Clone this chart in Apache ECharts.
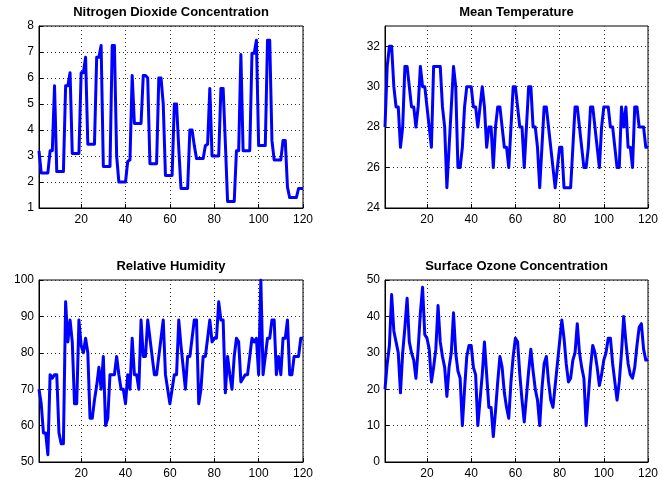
<!DOCTYPE html>
<html>
<head>
<meta charset="utf-8">
<script src="https://cdn.jsdelivr.net/npm/echarts@6/dist/echarts.min.js"></script>
<style>
  html, body { margin: 0; padding: 0; background: #fff; }
  #chart { width: 663px; height: 480px; }
</style>
</head>
<body>
<div id="chart"></div>
<script>
// daily readings, day 1..120
var no2 = [3.2, 2.35, 2.35, 2.35, 2.35, 3.2, 3.2, 5.7, 2.4, 2.4,
  2.4, 2.4, 5.7, 5.7, 6.2, 3.1, 3.1, 3.1, 3.1, 6.2,
  6.2, 6.8, 3.45, 3.45, 3.45, 3.45, 6.8, 6.8, 7.25, 2.6,
  2.6, 2.6, 2.6, 7.25, 7.25, 3.0, 2.0, 2.0, 2.0, 2.0,
  2.8, 2.85, 6.1, 4.25, 4.25, 4.25, 4.25, 6.1, 6.1, 6.0,
  2.7, 2.7, 2.7, 2.7, 6.0, 6.0, 5.0, 2.25, 2.25, 2.25,
  2.25, 5.0, 5.0, 3.3, 1.75, 1.75, 1.75, 1.75, 4.0, 4.0,
  3.4, 2.9, 2.9, 2.9, 2.9, 3.4, 3.45, 5.6, 3.0, 3.0,
  3.0, 3.0, 5.6, 5.6, 3.5, 1.25, 1.25, 1.25, 1.25, 3.2,
  3.2, 6.9, 3.2, 3.2, 3.2, 3.2, 6.95, 6.95, 7.45, 3.4,
  3.4, 3.4, 3.4, 7.45, 7.45, 3.6, 2.85, 2.85, 2.85, 2.85,
  3.6, 3.6, 1.8, 1.4, 1.4, 1.4, 1.4, 1.75, 1.75, 1.75];

var temperature = [28, 31, 32, 32, 30, 29, 29, 27, 28, 31,
  31, 30, 29, 29, 28, 29, 31, 30, 30, 29,
  28, 27, 31, 31, 31, 31, 29, 28, 25, 27,
  29, 31, 30, 26, 26, 27, 29, 30, 30, 30,
  29, 29, 28, 29, 30, 29, 27, 28, 28, 26,
  28, 29, 29, 28, 27, 27, 26, 28, 30, 30,
  29, 28, 28, 26, 28, 30, 30, 28, 28, 27,
  25, 27, 29, 29, 28, 27, 26, 25, 26, 27,
  27, 25, 25, 25, 25, 27, 29, 29, 28, 27,
  26, 26, 27, 29, 29, 28, 27, 26, 28, 29,
  29, 29, 28, 28, 27, 26, 26, 29, 28, 29,
  27, 27, 26, 29, 29, 28, 28, 28, 27, 27];

var humidity = [70, 66, 58, 58, 52, 74, 73, 74, 74, 58,
  55, 55, 94, 83, 89, 83, 66, 66, 89, 82,
  80, 84, 80, 62, 62, 67, 71, 76, 70, 79,
  60, 62, 74, 74, 74, 79, 74, 70, 70, 66,
  74, 70, 84, 74, 74, 70, 89, 79, 79, 89,
  84, 79, 74, 74, 79, 84, 89, 74, 70, 66,
  70, 74, 74, 89, 82, 76, 70, 79, 79, 84,
  89, 89, 66, 70, 79, 79, 84, 89, 83, 84,
  84, 94, 89, 89, 69, 79, 74, 70, 79, 84,
  83, 72, 73, 74, 74, 79, 84, 83, 84, 74,
  100, 74, 79, 84, 84, 89, 89, 74, 79, 74,
  84, 84, 89, 74, 74, 79, 79, 79, 84, 84];

var ozone = [20, 27, 32, 46, 36, 33, 30, 19, 30, 37,
  45, 33, 30, 28, 23, 31, 41, 48, 35, 34,
  31, 22, 26, 31, 43, 33, 29, 26, 18, 26,
  30, 41, 30, 25, 23, 10, 20, 29, 32, 32,
  26, 24, 10, 17, 24, 33, 24, 15, 15, 7,
  14, 22, 29, 26, 19, 15, 12, 22, 29, 34,
  33, 24, 17, 11, 18, 25, 31, 25, 20, 17,
  10, 20, 27, 29, 22, 17, 15, 21, 27, 33,
  39, 34, 27, 22, 23, 28, 30, 38, 30, 26,
  23, 10, 18, 26, 32, 30, 26, 21, 24, 28,
  30, 34, 34, 27, 22, 17, 22, 30, 40, 33,
  27, 24, 23, 26, 32, 37, 38, 31, 28, 28];

var titles = ['Nitrogen Dioxide Concentration', 'Mean Temperature',
  'Relative Humidity', 'Surface Ozone Concentration'];
var xTicks = [20, 40, 60, 80, 100, 120];
var yTicks = [
  [1, 2, 3, 4, 5, 6, 7, 8],
  [24, 26, 28, 30, 32],
  [50, 60, 70, 80, 90, 100],
  [0, 10, 20, 30, 40, 50]
];
var yMax = [8, 33, 100, 50];

var myChart = echarts.init(document.getElementById('chart'));

var allSeries = [no2, temperature, humidity, ozone];
var grids = [
  {left: 39, top: 26, width: 264, height: 182},
  {left: 385, top: 26, width: 263, height: 182},
  {left: 39, top: 280, width: 264, height: 182},
  {left: 385, top: 280, width: 263, height: 182}
];

var font = 'Liberation Sans, Arial, Helvetica, sans-serif';
var dotted = {color: '#333', width: 1, type: [1, 3]};

var option = {
  animation: false,
  backgroundColor: '#fff',
  title: [],
  grid: [],
  xAxis: [],
  yAxis: [],
  series: []
};

for (var i = 0; i < 4; i++) {
  var g = grids[i];
  option.grid.push({
    left: g.left, top: g.top, width: g.width, height: g.height,
    show: true, borderColor: '#000', borderWidth: 1
  });
  option.title.push({
    text: titles[i],
    left: g.left + g.width / 2,
    top: g.top - 20,
    textAlign: 'center',
    padding: 0,
    textStyle: {fontFamily: font, fontSize: 13, fontWeight: 'bold', color: '#000'}
  });
  option.xAxis.push({
    type: 'value', gridIndex: i, min: 1, max: 120,
    axisLine: {lineStyle: {color: '#000'}},
    axisTick: {inside: true, length: 4, customValues: xTicks, lineStyle: {color: '#000'}},
    axisLabel: {customValues: xTicks, color: '#000', fontSize: 12, fontFamily: font, margin: 6},
    splitLine: {show: true, lineStyle: dotted}
  });
  option.yAxis.push({
    type: 'value', gridIndex: i, min: yTicks[i][0], max: yMax[i],
    axisLine: {show: true, lineStyle: {color: '#000'}},
    axisTick: {show: true, inside: true, length: 4, customValues: yTicks[i], lineStyle: {color: '#000'}},
    axisLabel: {customValues: yTicks[i], color: '#000', fontSize: 12, fontFamily: font, margin: 5},
    splitLine: {show: true, lineStyle: dotted}
  });
  var pts = [];
  for (var d = 0; d < allSeries[i].length; d++) {
    pts.push([d + 1, allSeries[i][d]]);
  }
  option.series.push({
    type: 'line', xAxisIndex: i, yAxisIndex: i,
    data: pts, showSymbol: false, symbol: 'none',
    lineStyle: {color: '#0000ff', width: 3, join: 'round'}
  });
}

myChart.setOption(option);
</script>
</body>
</html>
